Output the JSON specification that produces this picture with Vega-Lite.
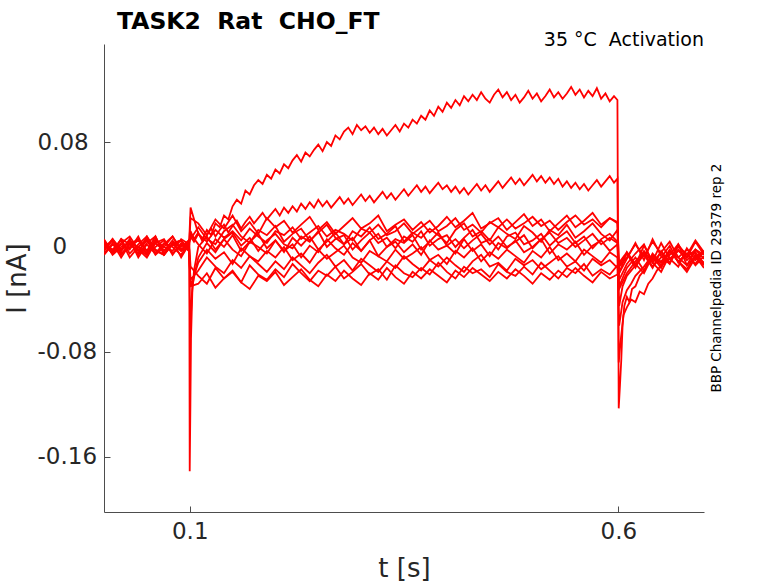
{
"$schema":"https://vega.github.io/schema/vega-lite/v6.json",
"width":600,"height":468,
"autosize":"none",
"padding":{"left":104,"top":44,"right":74,"bottom":71},
"background":"white",
"title":{"text":"TASK2\u00a0\u00a0Rat\u00a0\u00a0CHO_FT","anchor":"start","frame":"group","dx":13,"offset":-21,"baseline":"alphabetic","font":"DejaVu Sans","fontSize":23.5,"fontWeight":"bold","color":"#000000"},
"config":{"font":"DejaVu Sans","view":{"stroke":null},
"axis":{"domainColor":"#4d4d4d","tickColor":"#4d4d4d","labelColor":"#262626","titleColor":"#262626","grid":false,"labelFont":"DejaVu Sans","titleFont":"DejaVu Sans","titleFontWeight":"normal"}},
"layer":[
{"data":{"values":[
{"s":"a","t":0,"i":0.003},{"s":"a","t":0.01,"i":-0.005},{"s":"a","t":0.02,"i":0.006},{"s":"a","t":0.03,"i":0.002},{"s":"a","t":0.04,"i":-0.003},{"s":"a","t":0.05,"i":0.005},{"s":"a","t":0.06,"i":-0.006},{"s":"a","t":0.07,"i":0.0},{"s":"a","t":0.08,"i":0.008},{"s":"a","t":0.09,"i":-0.002},{"s":"a","t":0.099,"i":0.003},{"s":"a","t":0.101,"i":0.008},
{"s":"a","t":0.105,"i":0.004},{"s":"a","t":0.11,"i":0.01},{"s":"a","t":0.115,"i":0.006},{"s":"a","t":0.12,"i":0.013},{"s":"a","t":0.125,"i":0.009},{"s":"a","t":0.13,"i":0.018},{"s":"a","t":0.135,"i":0.015},{"s":"a","t":0.14,"i":0.024},{"s":"a","t":0.145,"i":0.021},{"s":"a","t":0.15,"i":0.031},{"s":"a","t":0.155,"i":0.036},{"s":"a","t":0.16,"i":0.033},{"s":"a","t":0.165,"i":0.043},{"s":"a","t":0.17,"i":0.04},{"s":"a","t":0.175,"i":0.047},{"s":"a","t":0.18,"i":0.051},{"s":"a","t":0.185,"i":0.048},{"s":"a","t":0.19,"i":0.055},{"s":"a","t":0.195,"i":0.052},{"s":"a","t":0.2,"i":0.059},{"s":"a","t":0.205,"i":0.056},{"s":"a","t":0.21,"i":0.063},{"s":"a","t":0.215,"i":0.06},{"s":"a","t":0.22,"i":0.066},{"s":"a","t":0.225,"i":0.07},{"s":"a","t":0.23,"i":0.065},{"s":"a","t":0.235,"i":0.072},{"s":"a","t":0.24,"i":0.069},{"s":"a","t":0.245,"i":0.074},{"s":"a","t":0.25,"i":0.078},{"s":"a","t":0.255,"i":0.073},{"s":"a","t":0.26,"i":0.08},{"s":"a","t":0.265,"i":0.077},{"s":"a","t":0.27,"i":0.085},{"s":"a","t":0.275,"i":0.082},{"s":"a","t":0.28,"i":0.088},{"s":"a","t":0.285,"i":0.091},{"s":"a","t":0.29,"i":0.086},{"s":"a","t":0.295,"i":0.093},{"s":"a","t":0.3,"i":0.089},{"s":"a","t":0.305,"i":0.092},{"s":"a","t":0.31,"i":0.087},{"s":"a","t":0.315,"i":0.091},{"s":"a","t":0.32,"i":0.086},{"s":"a","t":0.325,"i":0.09},{"s":"a","t":0.33,"i":0.085},{"s":"a","t":0.335,"i":0.089},{"s":"a","t":0.34,"i":0.093},{"s":"a","t":0.345,"i":0.088},{"s":"a","t":0.35,"i":0.094},{"s":"a","t":0.355,"i":0.091},{"s":"a","t":0.36,"i":0.097},{"s":"a","t":0.365,"i":0.094},{"s":"a","t":0.37,"i":0.1},{"s":"a","t":0.375,"i":0.097},{"s":"a","t":0.38,"i":0.104},{"s":"a","t":0.385,"i":0.1},{"s":"a","t":0.39,"i":0.107},{"s":"a","t":0.395,"i":0.103},{"s":"a","t":0.4,"i":0.11},{"s":"a","t":0.405,"i":0.106},{"s":"a","t":0.41,"i":0.112},{"s":"a","t":0.415,"i":0.108},{"s":"a","t":0.42,"i":0.115},{"s":"a","t":0.425,"i":0.111},{"s":"a","t":0.43,"i":0.116},{"s":"a","t":0.435,"i":0.112},{"s":"a","t":0.44,"i":0.118},{"s":"a","t":0.445,"i":0.113},{"s":"a","t":0.45,"i":0.11},{"s":"a","t":0.455,"i":0.116},{"s":"a","t":0.46,"i":0.12},{"s":"a","t":0.465,"i":0.114},{"s":"a","t":0.47,"i":0.118},{"s":"a","t":0.475,"i":0.112},{"s":"a","t":0.48,"i":0.116},{"s":"a","t":0.485,"i":0.11},{"s":"a","t":0.49,"i":0.114},{"s":"a","t":0.495,"i":0.119},{"s":"a","t":0.5,"i":0.113},{"s":"a","t":0.505,"i":0.117},{"s":"a","t":0.51,"i":0.111},{"s":"a","t":0.515,"i":0.115},{"s":"a","t":0.52,"i":0.12},{"s":"a","t":0.525,"i":0.114},{"s":"a","t":0.53,"i":0.118},{"s":"a","t":0.535,"i":0.113},{"s":"a","t":0.54,"i":0.117},{"s":"a","t":0.545,"i":0.122},{"s":"a","t":0.55,"i":0.116},{"s":"a","t":0.555,"i":0.12},{"s":"a","t":0.56,"i":0.114},{"s":"a","t":0.565,"i":0.119},{"s":"a","t":0.57,"i":0.115},{"s":"a","t":0.575,"i":0.121},{"s":"a","t":0.58,"i":0.113},{"s":"a","t":0.585,"i":0.117},{"s":"a","t":0.59,"i":0.111},{"s":"a","t":0.595,"i":0.115},{"s":"a","t":0.599,"i":0.112},
{"s":"a","t":0.6005,"i":-0.123},{"s":"a","t":0.602,"i":-0.105},{"s":"a","t":0.6035,"i":-0.086},{"s":"a","t":0.605,"i":-0.06},{"s":"a","t":0.607,"i":-0.045},{"s":"a","t":0.61,"i":-0.038},{"s":"a","t":0.613,"i":-0.042},{"s":"a","t":0.616,"i":-0.032},{"s":"a","t":0.62,"i":-0.03},{"s":"a","t":0.625,"i":-0.022},{"s":"a","t":0.63,"i":-0.018},{"s":"a","t":0.635,"i":-0.012},{"s":"a","t":0.64,"i":-0.009},{"s":"a","t":0.65,"i":-0.011},{"s":"a","t":0.66,"i":-0.004},{"s":"a","t":0.67,"i":-0.008},{"s":"a","t":0.68,"i":-0.002},{"s":"a","t":0.69,"i":-0.007},{"s":"a","t":0.7,"i":-0.004},

{"s":"b","t":0,"i":-0.002},{"s":"b","t":0.01,"i":0.005},{"s":"b","t":0.02,"i":-0.006},{"s":"b","t":0.03,"i":0.003},{"s":"b","t":0.04,"i":0.0},{"s":"b","t":0.05,"i":-0.005},{"s":"b","t":0.06,"i":0.006},{"s":"b","t":0.07,"i":-0.003},{"s":"b","t":0.08,"i":0.002},{"s":"b","t":0.09,"i":0.005},{"s":"b","t":0.099,"i":-0.002},{"s":"b","t":0.101,"i":0.012},
{"s":"b","t":0.105,"i":0.006},{"s":"b","t":0.11,"i":0.011},{"s":"b","t":0.115,"i":0.004},{"s":"b","t":0.12,"i":0.009},{"s":"b","t":0.125,"i":0.014},{"s":"b","t":0.13,"i":0.008},{"s":"b","t":0.135,"i":0.013},{"s":"b","t":0.14,"i":0.017},{"s":"b","t":0.145,"i":0.011},{"s":"b","t":0.15,"i":0.016},{"s":"b","t":0.155,"i":0.02},{"s":"b","t":0.16,"i":0.014},{"s":"b","t":0.165,"i":0.019},{"s":"b","t":0.17,"i":0.023},{"s":"b","t":0.175,"i":0.018},{"s":"b","t":0.18,"i":0.022},{"s":"b","t":0.185,"i":0.026},{"s":"b","t":0.19,"i":0.021},{"s":"b","t":0.195,"i":0.025},{"s":"b","t":0.2,"i":0.029},{"s":"b","t":0.205,"i":0.024},{"s":"b","t":0.21,"i":0.03},{"s":"b","t":0.215,"i":0.026},{"s":"b","t":0.22,"i":0.031},{"s":"b","t":0.225,"i":0.027},{"s":"b","t":0.23,"i":0.033},{"s":"b","t":0.235,"i":0.029},{"s":"b","t":0.24,"i":0.034},{"s":"b","t":0.245,"i":0.03},{"s":"b","t":0.25,"i":0.036},{"s":"b","t":0.255,"i":0.031},{"s":"b","t":0.26,"i":0.035},{"s":"b","t":0.265,"i":0.03},{"s":"b","t":0.27,"i":0.034},{"s":"b","t":0.275,"i":0.038},{"s":"b","t":0.28,"i":0.033},{"s":"b","t":0.285,"i":0.037},{"s":"b","t":0.29,"i":0.032},{"s":"b","t":0.295,"i":0.036},{"s":"b","t":0.3,"i":0.04},{"s":"b","t":0.305,"i":0.035},{"s":"b","t":0.31,"i":0.039},{"s":"b","t":0.315,"i":0.034},{"s":"b","t":0.32,"i":0.038},{"s":"b","t":0.325,"i":0.042},{"s":"b","t":0.33,"i":0.037},{"s":"b","t":0.335,"i":0.041},{"s":"b","t":0.34,"i":0.036},{"s":"b","t":0.345,"i":0.04},{"s":"b","t":0.35,"i":0.044},{"s":"b","t":0.355,"i":0.039},{"s":"b","t":0.36,"i":0.043},{"s":"b","t":0.365,"i":0.047},{"s":"b","t":0.37,"i":0.042},{"s":"b","t":0.375,"i":0.046},{"s":"b","t":0.38,"i":0.041},{"s":"b","t":0.385,"i":0.045},{"s":"b","t":0.39,"i":0.049},{"s":"b","t":0.395,"i":0.044},{"s":"b","t":0.4,"i":0.047},{"s":"b","t":0.405,"i":0.042},{"s":"b","t":0.41,"i":0.046},{"s":"b","t":0.415,"i":0.041},{"s":"b","t":0.42,"i":0.045},{"s":"b","t":0.425,"i":0.04},{"s":"b","t":0.43,"i":0.044},{"s":"b","t":0.435,"i":0.048},{"s":"b","t":0.44,"i":0.043},{"s":"b","t":0.445,"i":0.047},{"s":"b","t":0.45,"i":0.042},{"s":"b","t":0.455,"i":0.046},{"s":"b","t":0.46,"i":0.05},{"s":"b","t":0.465,"i":0.045},{"s":"b","t":0.47,"i":0.049},{"s":"b","t":0.475,"i":0.053},{"s":"b","t":0.48,"i":0.048},{"s":"b","t":0.485,"i":0.052},{"s":"b","t":0.49,"i":0.047},{"s":"b","t":0.495,"i":0.051},{"s":"b","t":0.5,"i":0.055},{"s":"b","t":0.505,"i":0.05},{"s":"b","t":0.51,"i":0.054},{"s":"b","t":0.515,"i":0.049},{"s":"b","t":0.52,"i":0.053},{"s":"b","t":0.525,"i":0.048},{"s":"b","t":0.53,"i":0.052},{"s":"b","t":0.535,"i":0.046},{"s":"b","t":0.54,"i":0.05},{"s":"b","t":0.545,"i":0.045},{"s":"b","t":0.55,"i":0.049},{"s":"b","t":0.555,"i":0.044},{"s":"b","t":0.56,"i":0.048},{"s":"b","t":0.565,"i":0.043},{"s":"b","t":0.57,"i":0.047},{"s":"b","t":0.575,"i":0.051},{"s":"b","t":0.58,"i":0.046},{"s":"b","t":0.585,"i":0.05},{"s":"b","t":0.59,"i":0.054},{"s":"b","t":0.595,"i":0.049},{"s":"b","t":0.599,"i":0.052},
{"s":"b","t":0.6005,"i":-0.088},{"s":"b","t":0.603,"i":-0.07},{"s":"b","t":0.606,"i":-0.052},{"s":"b","t":0.61,"i":-0.046},{"s":"b","t":0.615,"i":-0.04},{"s":"b","t":0.62,"i":-0.042},{"s":"b","t":0.625,"i":-0.034},{"s":"b","t":0.63,"i":-0.036},{"s":"b","t":0.635,"i":-0.028},{"s":"b","t":0.64,"i":-0.024},{"s":"b","t":0.645,"i":-0.018},{"s":"b","t":0.65,"i":-0.014},{"s":"b","t":0.66,"i":-0.009},{"s":"b","t":0.67,"i":-0.003},{"s":"b","t":0.68,"i":-0.008},{"s":"b","t":0.69,"i":-0.002},{"s":"b","t":0.7,"i":-0.006},

{"s":"c","t":0,"i":0.005},{"s":"c","t":0.01,"i":-0.003},{"s":"c","t":0.02,"i":0.006},{"s":"c","t":0.03,"i":-0.005},{"s":"c","t":0.04,"i":0.002},{"s":"c","t":0.05,"i":0.008},{"s":"c","t":0.06,"i":-0.003},{"s":"c","t":0.07,"i":-0.006},{"s":"c","t":0.08,"i":0.003},{"s":"c","t":0.09,"i":0.005},{"s":"c","t":0.099,"i":-0.002},{"s":"c","t":0.101,"i":0.03},
{"s":"c","t":0.11,"i":0.01},{"s":"c","t":0.12,"i":0.004},{"s":"c","t":0.13,"i":0.013},{"s":"c","t":0.14,"i":0.007},{"s":"c","t":0.15,"i":0.012},{"s":"c","t":0.16,"i":0.005},{"s":"c","t":0.17,"i":0.014},{"s":"c","t":0.18,"i":0.008},{"s":"c","t":0.19,"i":0.003},{"s":"c","t":0.2,"i":0.012},{"s":"c","t":0.21,"i":0.009},{"s":"c","t":0.22,"i":0.015},{"s":"c","t":0.23,"i":0.006},{"s":"c","t":0.24,"i":0.011},{"s":"c","t":0.25,"i":0.016},{"s":"c","t":0.26,"i":0.008},{"s":"c","t":0.27,"i":0.013},{"s":"c","t":0.28,"i":0.01},{"s":"c","t":0.29,"i":0.005},{"s":"c","t":0.3,"i":0.014},{"s":"c","t":0.31,"i":0.011},{"s":"c","t":0.32,"i":0.017},{"s":"c","t":0.33,"i":0.009},{"s":"c","t":0.34,"i":0.012},{"s":"c","t":0.35,"i":0.018},{"s":"c","t":0.36,"i":0.01},{"s":"c","t":0.37,"i":0.015},{"s":"c","t":0.38,"i":0.02},{"s":"c","t":0.39,"i":0.012},{"s":"c","t":0.4,"i":0.016},{"s":"c","t":0.41,"i":0.022},{"s":"c","t":0.42,"i":0.013},{"s":"c","t":0.43,"i":0.017},{"s":"c","t":0.44,"i":0.011},{"s":"c","t":0.45,"i":0.019},{"s":"c","t":0.46,"i":0.015},{"s":"c","t":0.47,"i":0.021},{"s":"c","t":0.48,"i":0.014},{"s":"c","t":0.49,"i":0.018},{"s":"c","t":0.5,"i":0.023},{"s":"c","t":0.51,"i":0.016},{"s":"c","t":0.52,"i":0.02},{"s":"c","t":0.53,"i":0.013},{"s":"c","t":0.54,"i":0.019},{"s":"c","t":0.55,"i":0.024},{"s":"c","t":0.56,"i":0.017},{"s":"c","t":0.57,"i":0.021},{"s":"c","t":0.58,"i":0.015},{"s":"c","t":0.59,"i":0.022},{"s":"c","t":0.599,"i":0.019},
{"s":"c","t":0.601,"i":-0.015},{"s":"c","t":0.61,"i":-0.008},{"s":"c","t":0.62,"i":0.002},{"s":"c","t":0.63,"i":-0.007},{"s":"c","t":0.64,"i":0.004},{"s":"c","t":0.65,"i":-0.005},{"s":"c","t":0.66,"i":-0.012},{"s":"c","t":0.67,"i":0.001},{"s":"c","t":0.68,"i":-0.006},{"s":"c","t":0.69,"i":0.005},{"s":"c","t":0.7,"i":-0.004},

{"s":"d","t":0,"i":-0.003},{"s":"d","t":0.01,"i":0.006},{"s":"d","t":0.02,"i":-0.002},{"s":"d","t":0.03,"i":0.005},{"s":"d","t":0.04,"i":-0.006},{"s":"d","t":0.05,"i":0.003},{"s":"d","t":0.06,"i":0.008},{"s":"d","t":0.07,"i":-0.005},{"s":"d","t":0.08,"i":0.002},{"s":"d","t":0.09,"i":-0.003},{"s":"d","t":0.099,"i":0.005},{"s":"d","t":0.101,"i":0.006},
{"s":"d","t":0.11,"i":0.015},{"s":"d","t":0.12,"i":0.006},{"s":"d","t":0.13,"i":0.002},{"s":"d","t":0.14,"i":0.012},{"s":"d","t":0.15,"i":0.017},{"s":"d","t":0.16,"i":0.008},{"s":"d","t":0.17,"i":0.003},{"s":"d","t":0.18,"i":0.013},{"s":"d","t":0.19,"i":0.009},{"s":"d","t":0.2,"i":0.016},{"s":"d","t":0.21,"i":0.004},{"s":"d","t":0.22,"i":0.01},{"s":"d","t":0.23,"i":0.014},{"s":"d","t":0.24,"i":0.005},{"s":"d","t":0.25,"i":0.011},{"s":"d","t":0.26,"i":0.017},{"s":"d","t":0.27,"i":0.007},{"s":"d","t":0.28,"i":0.002},{"s":"d","t":0.29,"i":0.012},{"s":"d","t":0.3,"i":0.008},{"s":"d","t":0.31,"i":0.015},{"s":"d","t":0.32,"i":0.006},{"s":"d","t":0.33,"i":0.01},{"s":"d","t":0.34,"i":0.016},{"s":"d","t":0.35,"i":0.004},{"s":"d","t":0.36,"i":0.011},{"s":"d","t":0.37,"i":0.007},{"s":"d","t":0.38,"i":0.014},{"s":"d","t":0.39,"i":0.009},{"s":"d","t":0.4,"i":0.003},{"s":"d","t":0.41,"i":0.013},{"s":"d","t":0.42,"i":0.018},{"s":"d","t":0.43,"i":0.008},{"s":"d","t":0.44,"i":0.012},{"s":"d","t":0.45,"i":0.005},{"s":"d","t":0.46,"i":0.015},{"s":"d","t":0.47,"i":0.01},{"s":"d","t":0.48,"i":0.006},{"s":"d","t":0.49,"i":0.016},{"s":"d","t":0.5,"i":0.011},{"s":"d","t":0.51,"i":0.004},{"s":"d","t":0.52,"i":0.013},{"s":"d","t":0.53,"i":0.009},{"s":"d","t":0.54,"i":0.017},{"s":"d","t":0.55,"i":0.007},{"s":"d","t":0.56,"i":0.012},{"s":"d","t":0.57,"i":0.018},{"s":"d","t":0.58,"i":0.01},{"s":"d","t":0.59,"i":0.005},{"s":"d","t":0.599,"i":0.013},
{"s":"d","t":0.601,"i":-0.03},{"s":"d","t":0.61,"i":-0.016},{"s":"d","t":0.62,"i":-0.008},{"s":"d","t":0.63,"i":-0.018},{"s":"d","t":0.64,"i":-0.005},{"s":"d","t":0.65,"i":-0.012},{"s":"d","t":0.66,"i":-0.002},{"s":"d","t":0.67,"i":-0.011},{"s":"d","t":0.68,"i":-0.017},{"s":"d","t":0.69,"i":-0.006},{"s":"d","t":0.7,"i":-0.012},

{"s":"e","t":0,"i":0.002},{"s":"e","t":0.01,"i":-0.005},{"s":"e","t":0.02,"i":0.003},{"s":"e","t":0.03,"i":0.008},{"s":"e","t":0.04,"i":-0.002},{"s":"e","t":0.05,"i":-0.006},{"s":"e","t":0.06,"i":0.005},{"s":"e","t":0.07,"i":0.0},{"s":"e","t":0.08,"i":-0.003},{"s":"e","t":0.09,"i":0.006},{"s":"e","t":0.0995,"i":0.002},{"s":"e","t":0.1,"i":-0.171},{"s":"e","t":0.1008,"i":-0.12},{"s":"e","t":0.1015,"i":-0.07},{"s":"e","t":0.103,"i":-0.035},{"s":"e","t":0.105,"i":-0.018},
{"s":"e","t":0.11,"i":0.0},{"s":"e","t":0.12,"i":0.008},{"s":"e","t":0.13,"i":-0.002},{"s":"e","t":0.14,"i":0.006},{"s":"e","t":0.15,"i":0.011},{"s":"e","t":0.16,"i":0.001},{"s":"e","t":0.17,"i":0.007},{"s":"e","t":0.18,"i":-0.003},{"s":"e","t":0.19,"i":0.005},{"s":"e","t":0.2,"i":0.01},{"s":"e","t":0.21,"i":0.002},{"s":"e","t":0.22,"i":-0.001},{"s":"e","t":0.23,"i":0.008},{"s":"e","t":0.24,"i":0.004},{"s":"e","t":0.25,"i":0.012},{"s":"e","t":0.26,"i":0.0},{"s":"e","t":0.27,"i":0.006},{"s":"e","t":0.28,"i":0.009},{"s":"e","t":0.29,"i":-0.002},{"s":"e","t":0.3,"i":0.005},{"s":"e","t":0.31,"i":0.011},{"s":"e","t":0.32,"i":0.003},{"s":"e","t":0.33,"i":0.007},{"s":"e","t":0.34,"i":-0.001},{"s":"e","t":0.35,"i":0.008},{"s":"e","t":0.36,"i":0.004},{"s":"e","t":0.37,"i":0.012},{"s":"e","t":0.38,"i":0.001},{"s":"e","t":0.39,"i":0.006},{"s":"e","t":0.4,"i":0.009},{"s":"e","t":0.41,"i":0.0},{"s":"e","t":0.42,"i":0.007},{"s":"e","t":0.43,"i":0.013},{"s":"e","t":0.44,"i":0.003},{"s":"e","t":0.45,"i":0.006},{"s":"e","t":0.46,"i":-0.002},{"s":"e","t":0.47,"i":0.008},{"s":"e","t":0.48,"i":0.011},{"s":"e","t":0.49,"i":0.002},{"s":"e","t":0.5,"i":0.005},{"s":"e","t":0.51,"i":0.01},{"s":"e","t":0.52,"i":0.001},{"s":"e","t":0.53,"i":0.007},{"s":"e","t":0.54,"i":0.012},{"s":"e","t":0.55,"i":0.003},{"s":"e","t":0.56,"i":0.008},{"s":"e","t":0.57,"i":-0.001},{"s":"e","t":0.58,"i":0.006},{"s":"e","t":0.59,"i":0.01},{"s":"e","t":0.599,"i":0.004},
{"s":"e","t":0.601,"i":-0.02},{"s":"e","t":0.61,"i":-0.004},{"s":"e","t":0.62,"i":-0.014},{"s":"e","t":0.63,"i":0.001},{"s":"e","t":0.64,"i":-0.011},{"s":"e","t":0.65,"i":0.003},{"s":"e","t":0.66,"i":-0.009},{"s":"e","t":0.67,"i":-0.015},{"s":"e","t":0.68,"i":-0.001},{"s":"e","t":0.69,"i":-0.01},{"s":"e","t":0.7,"i":-0.003},

{"s":"f","t":0,"i":-0.005},{"s":"f","t":0.01,"i":0.003},{"s":"f","t":0.02,"i":-0.008},{"s":"f","t":0.03,"i":0.002},{"s":"f","t":0.04,"i":0.006},{"s":"f","t":0.05,"i":-0.003},{"s":"f","t":0.06,"i":0.0},{"s":"f","t":0.07,"i":0.005},{"s":"f","t":0.08,"i":-0.006},{"s":"f","t":0.09,"i":0.003},{"s":"f","t":0.0995,"i":-0.002},{"s":"f","t":0.1005,"i":-0.065},{"s":"f","t":0.103,"i":-0.03},{"s":"f","t":0.106,"i":-0.02},
{"s":"f","t":0.11,"i":-0.008},{"s":"f","t":0.12,"i":0.003},{"s":"f","t":0.13,"i":-0.004},{"s":"f","t":0.14,"i":0.006},{"s":"f","t":0.15,"i":-0.002},{"s":"f","t":0.16,"i":-0.007},{"s":"f","t":0.17,"i":0.004},{"s":"f","t":0.18,"i":0.0},{"s":"f","t":0.19,"i":-0.005},{"s":"f","t":0.2,"i":0.005},{"s":"f","t":0.21,"i":-0.003},{"s":"f","t":0.22,"i":0.002},{"s":"f","t":0.23,"i":-0.008},{"s":"f","t":0.24,"i":0.001},{"s":"f","t":0.25,"i":-0.004},{"s":"f","t":0.26,"i":0.006},{"s":"f","t":0.27,"i":-0.001},{"s":"f","t":0.28,"i":-0.006},{"s":"f","t":0.29,"i":0.003},{"s":"f","t":0.3,"i":-0.003},{"s":"f","t":0.31,"i":0.005},{"s":"f","t":0.32,"i":-0.007},{"s":"f","t":0.33,"i":0.0},{"s":"f","t":0.34,"i":0.004},{"s":"f","t":0.35,"i":-0.004},{"s":"f","t":0.36,"i":0.002},{"s":"f","t":0.37,"i":-0.006},{"s":"f","t":0.38,"i":0.005},{"s":"f","t":0.39,"i":-0.002},{"s":"f","t":0.4,"i":0.001},{"s":"f","t":0.41,"i":-0.005},{"s":"f","t":0.42,"i":0.006},{"s":"f","t":0.43,"i":-0.003},{"s":"f","t":0.44,"i":0.002},{"s":"f","t":0.45,"i":-0.007},{"s":"f","t":0.46,"i":0.003},{"s":"f","t":0.47,"i":-0.001},{"s":"f","t":0.48,"i":0.005},{"s":"f","t":0.49,"i":-0.004},{"s":"f","t":0.5,"i":0.0},{"s":"f","t":0.51,"i":0.006},{"s":"f","t":0.52,"i":-0.005},{"s":"f","t":0.53,"i":0.002},{"s":"f","t":0.54,"i":-0.002},{"s":"f","t":0.55,"i":0.004},{"s":"f","t":0.56,"i":-0.006},{"s":"f","t":0.57,"i":0.001},{"s":"f","t":0.58,"i":0.005},{"s":"f","t":0.59,"i":-0.003},{"s":"f","t":0.599,"i":0.002},
{"s":"f","t":0.601,"i":-0.045},{"s":"f","t":0.605,"i":-0.03},{"s":"f","t":0.61,"i":-0.022},{"s":"f","t":0.62,"i":-0.014},{"s":"f","t":0.63,"i":-0.006},{"s":"f","t":0.64,"i":-0.016},{"s":"f","t":0.65,"i":-0.003},{"s":"f","t":0.66,"i":-0.012},{"s":"f","t":0.67,"i":-0.002},{"s":"f","t":0.68,"i":-0.01},{"s":"f","t":0.69,"i":-0.004},{"s":"f","t":0.7,"i":-0.013},

{"s":"g","t":0,"i":0.003},{"s":"g","t":0.01,"i":-0.002},{"s":"g","t":0.02,"i":0.005},{"s":"g","t":0.03,"i":-0.008},{"s":"g","t":0.04,"i":0.0},{"s":"g","t":0.05,"i":0.006},{"s":"g","t":0.06,"i":-0.005},{"s":"g","t":0.07,"i":0.002},{"s":"g","t":0.08,"i":0.008},{"s":"g","t":0.09,"i":-0.003},{"s":"g","t":0.099,"i":0.0},{"s":"g","t":0.101,"i":-0.03},
{"s":"g","t":0.11,"i":-0.012},{"s":"g","t":0.12,"i":-0.002},{"s":"g","t":0.13,"i":-0.009},{"s":"g","t":0.14,"i":-0.004},{"s":"g","t":0.15,"i":-0.013},{"s":"g","t":0.16,"i":-0.001},{"s":"g","t":0.17,"i":-0.007},{"s":"g","t":0.18,"i":-0.011},{"s":"g","t":0.19,"i":-0.003},{"s":"g","t":0.2,"i":-0.008},{"s":"g","t":0.21,"i":0.0},{"s":"g","t":0.22,"i":-0.01},{"s":"g","t":0.23,"i":-0.005},{"s":"g","t":0.24,"i":-0.012},{"s":"g","t":0.25,"i":-0.002},{"s":"g","t":0.26,"i":-0.009},{"s":"g","t":0.27,"i":-0.004},{"s":"g","t":0.28,"i":0.001},{"s":"g","t":0.29,"i":-0.008},{"s":"g","t":0.3,"i":-0.012},{"s":"g","t":0.31,"i":-0.003},{"s":"g","t":0.32,"i":-0.007},{"s":"g","t":0.33,"i":-0.011},{"s":"g","t":0.34,"i":-0.002},{"s":"g","t":0.35,"i":-0.009},{"s":"g","t":0.36,"i":-0.005},{"s":"g","t":0.37,"i":0.0},{"s":"g","t":0.38,"i":-0.01},{"s":"g","t":0.39,"i":-0.006},{"s":"g","t":0.4,"i":-0.013},{"s":"g","t":0.41,"i":-0.003},{"s":"g","t":0.42,"i":-0.008},{"s":"g","t":0.43,"i":-0.001},{"s":"g","t":0.44,"i":-0.011},{"s":"g","t":0.45,"i":-0.004},{"s":"g","t":0.46,"i":-0.009},{"s":"g","t":0.47,"i":-0.002},{"s":"g","t":0.48,"i":-0.007},{"s":"g","t":0.49,"i":-0.012},{"s":"g","t":0.5,"i":-0.003},{"s":"g","t":0.51,"i":-0.008},{"s":"g","t":0.52,"i":0.0},{"s":"g","t":0.53,"i":-0.01},{"s":"g","t":0.54,"i":-0.005},{"s":"g","t":0.55,"i":-0.011},{"s":"g","t":0.56,"i":-0.002},{"s":"g","t":0.57,"i":-0.007},{"s":"g","t":0.58,"i":-0.012},{"s":"g","t":0.59,"i":-0.004},{"s":"g","t":0.599,"i":-0.008},
{"s":"g","t":0.601,"i":-0.06},{"s":"g","t":0.605,"i":-0.042},{"s":"g","t":0.61,"i":-0.033},{"s":"g","t":0.615,"i":-0.028},{"s":"g","t":0.62,"i":-0.022},{"s":"g","t":0.63,"i":-0.015},{"s":"g","t":0.64,"i":-0.006},{"s":"g","t":0.65,"i":-0.014},{"s":"g","t":0.66,"i":-0.003},{"s":"g","t":0.67,"i":-0.011},{"s":"g","t":0.68,"i":-0.005},{"s":"g","t":0.69,"i":-0.014},{"s":"g","t":0.7,"i":-0.007},

{"s":"h","t":0,"i":-0.006},{"s":"h","t":0.01,"i":0.002},{"s":"h","t":0.02,"i":-0.003},{"s":"h","t":0.03,"i":0.005},{"s":"h","t":0.04,"i":-0.002},{"s":"h","t":0.05,"i":-0.008},{"s":"h","t":0.06,"i":0.003},{"s":"h","t":0.07,"i":0.006},{"s":"h","t":0.08,"i":-0.005},{"s":"h","t":0.09,"i":0.002},{"s":"h","t":0.099,"i":-0.003},{"s":"h","t":0.101,"i":-0.025},
{"s":"h","t":0.11,"i":-0.018},{"s":"h","t":0.12,"i":-0.008},{"s":"h","t":0.13,"i":-0.015},{"s":"h","t":0.14,"i":-0.02},{"s":"h","t":0.15,"i":-0.01},{"s":"h","t":0.16,"i":-0.016},{"s":"h","t":0.17,"i":-0.007},{"s":"h","t":0.18,"i":-0.013},{"s":"h","t":0.19,"i":-0.019},{"s":"h","t":0.2,"i":-0.011},{"s":"h","t":0.21,"i":-0.017},{"s":"h","t":0.22,"i":-0.008},{"s":"h","t":0.23,"i":-0.014},{"s":"h","t":0.24,"i":-0.02},{"s":"h","t":0.25,"i":-0.012},{"s":"h","t":0.26,"i":-0.006},{"s":"h","t":0.27,"i":-0.015},{"s":"h","t":0.28,"i":-0.01},{"s":"h","t":0.29,"i":-0.018},{"s":"h","t":0.3,"i":-0.009},{"s":"h","t":0.31,"i":-0.014},{"s":"h","t":0.32,"i":-0.019},{"s":"h","t":0.33,"i":-0.011},{"s":"h","t":0.34,"i":-0.016},{"s":"h","t":0.35,"i":-0.007},{"s":"h","t":0.36,"i":-0.013},{"s":"h","t":0.37,"i":-0.018},{"s":"h","t":0.38,"i":-0.01},{"s":"h","t":0.39,"i":-0.015},{"s":"h","t":0.4,"i":-0.008},{"s":"h","t":0.41,"i":-0.014},{"s":"h","t":0.42,"i":-0.019},{"s":"h","t":0.43,"i":-0.011},{"s":"h","t":0.44,"i":-0.006},{"s":"h","t":0.45,"i":-0.015},{"s":"h","t":0.46,"i":-0.012},{"s":"h","t":0.47,"i":-0.018},{"s":"h","t":0.48,"i":-0.009},{"s":"h","t":0.49,"i":-0.014},{"s":"h","t":0.5,"i":-0.01},{"s":"h","t":0.51,"i":-0.017},{"s":"h","t":0.52,"i":-0.012},{"s":"h","t":0.53,"i":-0.007},{"s":"h","t":0.54,"i":-0.015},{"s":"h","t":0.55,"i":-0.011},{"s":"h","t":0.56,"i":-0.018},{"s":"h","t":0.57,"i":-0.009},{"s":"h","t":0.58,"i":-0.014},{"s":"h","t":0.59,"i":-0.01},{"s":"h","t":0.599,"i":-0.016},
{"s":"h","t":0.601,"i":-0.032},{"s":"h","t":0.61,"i":-0.02},{"s":"h","t":0.62,"i":-0.011},{"s":"h","t":0.63,"i":-0.004},{"s":"h","t":0.64,"i":-0.015},{"s":"h","t":0.65,"i":-0.008},{"s":"h","t":0.66,"i":0.001},{"s":"h","t":0.67,"i":-0.012},{"s":"h","t":0.68,"i":-0.005},{"s":"h","t":0.69,"i":-0.013},{"s":"h","t":0.7,"i":-0.003},

{"s":"i","t":0,"i":0.005},{"s":"i","t":0.01,"i":-0.006},{"s":"i","t":0.02,"i":0.0},{"s":"i","t":0.03,"i":0.003},{"s":"i","t":0.04,"i":-0.005},{"s":"i","t":0.05,"i":0.008},{"s":"i","t":0.06,"i":-0.002},{"s":"i","t":0.07,"i":-0.006},{"s":"i","t":0.08,"i":0.003},{"s":"i","t":0.09,"i":0.0},{"s":"i","t":0.099,"i":0.005},{"s":"i","t":0.101,"i":-0.015},
{"s":"i","t":0.11,"i":-0.022},{"s":"i","t":0.12,"i":-0.028},{"s":"i","t":0.13,"i":-0.016},{"s":"i","t":0.14,"i":-0.024},{"s":"i","t":0.15,"i":-0.019},{"s":"i","t":0.16,"i":-0.027},{"s":"i","t":0.17,"i":-0.014},{"s":"i","t":0.18,"i":-0.021},{"s":"i","t":0.19,"i":-0.025},{"s":"i","t":0.2,"i":-0.017},{"s":"i","t":0.21,"i":-0.023},{"s":"i","t":0.22,"i":-0.013},{"s":"i","t":0.23,"i":-0.02},{"s":"i","t":0.24,"i":-0.026},{"s":"i","t":0.25,"i":-0.018},{"s":"i","t":0.26,"i":-0.022},{"s":"i","t":0.27,"i":-0.015},{"s":"i","t":0.28,"i":-0.024},{"s":"i","t":0.29,"i":-0.019},{"s":"i","t":0.3,"i":-0.013},{"s":"i","t":0.31,"i":-0.021},{"s":"i","t":0.32,"i":-0.017},{"s":"i","t":0.33,"i":-0.025},{"s":"i","t":0.34,"i":-0.014},{"s":"i","t":0.35,"i":-0.02},{"s":"i","t":0.36,"i":-0.023},{"s":"i","t":0.37,"i":-0.016},{"s":"i","t":0.38,"i":-0.021},{"s":"i","t":0.39,"i":-0.012},{"s":"i","t":0.4,"i":-0.019},{"s":"i","t":0.41,"i":-0.024},{"s":"i","t":0.42,"i":-0.015},{"s":"i","t":0.43,"i":-0.02},{"s":"i","t":0.44,"i":-0.017},{"s":"i","t":0.45,"i":-0.023},{"s":"i","t":0.46,"i":-0.013},{"s":"i","t":0.47,"i":-0.019},{"s":"i","t":0.48,"i":-0.022},{"s":"i","t":0.49,"i":-0.015},{"s":"i","t":0.5,"i":-0.021},{"s":"i","t":0.51,"i":-0.012},{"s":"i","t":0.52,"i":-0.018},{"s":"i","t":0.53,"i":-0.024},{"s":"i","t":0.54,"i":-0.016},{"s":"i","t":0.55,"i":-0.02},{"s":"i","t":0.56,"i":-0.013},{"s":"i","t":0.57,"i":-0.022},{"s":"i","t":0.58,"i":-0.017},{"s":"i","t":0.59,"i":-0.021},{"s":"i","t":0.599,"i":-0.014},
{"s":"i","t":0.601,"i":-0.014},{"s":"i","t":0.61,"i":-0.005},{"s":"i","t":0.62,"i":-0.016},{"s":"i","t":0.63,"i":-0.003},{"s":"i","t":0.64,"i":-0.012},{"s":"i","t":0.65,"i":-0.019},{"s":"i","t":0.66,"i":-0.006},{"s":"i","t":0.67,"i":0.002},{"s":"i","t":0.68,"i":-0.014},{"s":"i","t":0.69,"i":-0.007},{"s":"i","t":0.7,"i":-0.016},

{"s":"j","t":0,"i":-0.002},{"s":"j","t":0.01,"i":0.006},{"s":"j","t":0.02,"i":-0.005},{"s":"j","t":0.03,"i":0.0},{"s":"j","t":0.04,"i":0.005},{"s":"j","t":0.05,"i":-0.003},{"s":"j","t":0.06,"i":0.008},{"s":"j","t":0.07,"i":-0.006},{"s":"j","t":0.08,"i":0.002},{"s":"j","t":0.09,"i":0.005},{"s":"j","t":0.099,"i":-0.003},{"s":"j","t":0.101,"i":0.022},
{"s":"j","t":0.11,"i":0.018},{"s":"j","t":0.12,"i":0.009},{"s":"j","t":0.13,"i":0.021},{"s":"j","t":0.14,"i":0.014},{"s":"j","t":0.15,"i":0.024},{"s":"j","t":0.16,"i":0.012},{"s":"j","t":0.17,"i":0.019},{"s":"j","t":0.18,"i":0.01},{"s":"j","t":0.19,"i":0.022},{"s":"j","t":0.2,"i":0.015},{"s":"j","t":0.21,"i":0.02},{"s":"j","t":0.22,"i":0.011},{"s":"j","t":0.23,"i":0.017},{"s":"j","t":0.24,"i":0.023},{"s":"j","t":0.25,"i":0.013},{"s":"j","t":0.26,"i":0.019},{"s":"j","t":0.27,"i":0.01},{"s":"j","t":0.28,"i":0.016},{"s":"j","t":0.29,"i":0.022},{"s":"j","t":0.3,"i":0.014},{"s":"j","t":0.31,"i":0.018},{"s":"j","t":0.32,"i":0.024},{"s":"j","t":0.33,"i":0.012},{"s":"j","t":0.34,"i":0.017},{"s":"j","t":0.35,"i":0.021},{"s":"j","t":0.36,"i":0.013},{"s":"j","t":0.37,"i":0.019},{"s":"j","t":0.38,"i":0.011},{"s":"j","t":0.39,"i":0.016},{"s":"j","t":0.4,"i":0.023},{"s":"j","t":0.41,"i":0.015},{"s":"j","t":0.42,"i":0.02},{"s":"j","t":0.43,"i":0.026},{"s":"j","t":0.44,"i":0.014},{"s":"j","t":0.45,"i":0.018},{"s":"j","t":0.46,"i":0.022},{"s":"j","t":0.47,"i":0.013},{"s":"j","t":0.48,"i":0.019},{"s":"j","t":0.49,"i":0.025},{"s":"j","t":0.5,"i":0.016},{"s":"j","t":0.51,"i":0.021},{"s":"j","t":0.52,"i":0.012},{"s":"j","t":0.53,"i":0.018},{"s":"j","t":0.54,"i":0.024},{"s":"j","t":0.55,"i":0.015},{"s":"j","t":0.56,"i":0.02},{"s":"j","t":0.57,"i":0.026},{"s":"j","t":0.58,"i":0.017},{"s":"j","t":0.59,"i":0.022},{"s":"j","t":0.599,"i":0.018},
{"s":"j","t":0.601,"i":-0.02},{"s":"j","t":0.61,"i":-0.009},{"s":"j","t":0.62,"i":0.003},{"s":"j","t":0.63,"i":-0.01},{"s":"j","t":0.64,"i":0.006},{"s":"j","t":0.65,"i":-0.007},{"s":"j","t":0.66,"i":-0.013},{"s":"j","t":0.67,"i":0.002},{"s":"j","t":0.68,"i":-0.008},{"s":"j","t":0.69,"i":0.004},{"s":"j","t":0.7,"i":-0.006},

{"s":"k","t":0,"i":0.0},{"s":"k","t":0.01,"i":0.005},{"s":"k","t":0.02,"i":-0.003},{"s":"k","t":0.03,"i":0.006},{"s":"k","t":0.04,"i":-0.008},{"s":"k","t":0.05,"i":0.002},{"s":"k","t":0.06,"i":-0.005},{"s":"k","t":0.07,"i":0.003},{"s":"k","t":0.08,"i":0.0},{"s":"k","t":0.09,"i":-0.006},{"s":"k","t":0.099,"i":0.003},{"s":"k","t":0.101,"i":-0.03},
{"s":"k","t":0.11,"i":-0.028},{"s":"k","t":0.12,"i":-0.02},{"s":"k","t":0.13,"i":-0.031},{"s":"k","t":0.14,"i":-0.024},{"s":"k","t":0.15,"i":-0.018},{"s":"k","t":0.16,"i":-0.027},{"s":"k","t":0.17,"i":-0.032},{"s":"k","t":0.18,"i":-0.022},{"s":"k","t":0.19,"i":-0.026},{"s":"k","t":0.2,"i":-0.019},{"s":"k","t":0.21,"i":-0.029},{"s":"k","t":0.22,"i":-0.023},{"s":"k","t":0.23,"i":-0.017},{"s":"k","t":0.24,"i":-0.025},{"s":"k","t":0.25,"i":-0.03},{"s":"k","t":0.26,"i":-0.021},{"s":"k","t":0.27,"i":-0.026},{"s":"k","t":0.28,"i":-0.018},{"s":"k","t":0.29,"i":-0.024},{"s":"k","t":0.3,"i":-0.029},{"s":"k","t":0.31,"i":-0.02},{"s":"k","t":0.32,"i":-0.025},{"s":"k","t":0.33,"i":-0.016},{"s":"k","t":0.34,"i":-0.023},{"s":"k","t":0.35,"i":-0.028},{"s":"k","t":0.36,"i":-0.019},{"s":"k","t":0.37,"i":-0.024},{"s":"k","t":0.38,"i":-0.017},{"s":"k","t":0.39,"i":-0.022},{"s":"k","t":0.4,"i":-0.027},{"s":"k","t":0.41,"i":-0.018},{"s":"k","t":0.42,"i":-0.023},{"s":"k","t":0.43,"i":-0.016},{"s":"k","t":0.44,"i":-0.021},{"s":"k","t":0.45,"i":-0.026},{"s":"k","t":0.46,"i":-0.019},{"s":"k","t":0.47,"i":-0.024},{"s":"k","t":0.48,"i":-0.017},{"s":"k","t":0.49,"i":-0.022},{"s":"k","t":0.5,"i":-0.028},{"s":"k","t":0.51,"i":-0.02},{"s":"k","t":0.52,"i":-0.025},{"s":"k","t":0.53,"i":-0.018},{"s":"k","t":0.54,"i":-0.023},{"s":"k","t":0.55,"i":-0.016},{"s":"k","t":0.56,"i":-0.022},{"s":"k","t":0.57,"i":-0.027},{"s":"k","t":0.58,"i":-0.019},{"s":"k","t":0.59,"i":-0.024},{"s":"k","t":0.599,"i":-0.021},
{"s":"k","t":0.601,"i":-0.012},{"s":"k","t":0.61,"i":-0.004},{"s":"k","t":0.62,"i":-0.013},{"s":"k","t":0.63,"i":-0.02},{"s":"k","t":0.64,"i":-0.007},{"s":"k","t":0.65,"i":-0.016},{"s":"k","t":0.66,"i":-0.003},{"s":"k","t":0.67,"i":-0.011},{"s":"k","t":0.68,"i":-0.019},{"s":"k","t":0.69,"i":-0.008},{"s":"k","t":0.7,"i":-0.014},

{"s":"l","t":0,"i":0.006},{"s":"l","t":0.01,"i":-0.005},{"s":"l","t":0.02,"i":0.002},{"s":"l","t":0.03,"i":-0.002},{"s":"l","t":0.04,"i":0.008},{"s":"l","t":0.05,"i":-0.006},{"s":"l","t":0.06,"i":0.003},{"s":"l","t":0.07,"i":-0.003},{"s":"l","t":0.08,"i":0.005},{"s":"l","t":0.09,"i":-0.008},{"s":"l","t":0.099,"i":0.002},{"s":"l","t":0.101,"i":0.01},
{"s":"l","t":0.11,"i":0.002},{"s":"l","t":0.12,"i":-0.005},{"s":"l","t":0.13,"i":0.006},{"s":"l","t":0.14,"i":0.0},{"s":"l","t":0.15,"i":0.009},{"s":"l","t":0.16,"i":-0.003},{"s":"l","t":0.17,"i":0.004},{"s":"l","t":0.18,"i":0.01},{"s":"l","t":0.19,"i":-0.001},{"s":"l","t":0.2,"i":0.005},{"s":"l","t":0.21,"i":-0.004},{"s":"l","t":0.22,"i":0.007},{"s":"l","t":0.23,"i":0.001},{"s":"l","t":0.24,"i":0.008},{"s":"l","t":0.25,"i":-0.002},{"s":"l","t":0.26,"i":0.004},{"s":"l","t":0.27,"i":0.011},{"s":"l","t":0.28,"i":0.002},{"s":"l","t":0.29,"i":0.007},{"s":"l","t":0.3,"i":-0.003},{"s":"l","t":0.31,"i":0.005},{"s":"l","t":0.32,"i":0.01},{"s":"l","t":0.33,"i":0.0},{"s":"l","t":0.34,"i":0.006},{"s":"l","t":0.35,"i":0.003},{"s":"l","t":0.36,"i":0.009},{"s":"l","t":0.37,"i":-0.002},{"s":"l","t":0.38,"i":0.004},{"s":"l","t":0.39,"i":0.011},{"s":"l","t":0.4,"i":0.001},{"s":"l","t":0.41,"i":0.006},{"s":"l","t":0.42,"i":-0.001},{"s":"l","t":0.43,"i":0.005},{"s":"l","t":0.44,"i":0.01},{"s":"l","t":0.45,"i":0.002},{"s":"l","t":0.46,"i":0.008},{"s":"l","t":0.47,"i":0.0},{"s":"l","t":0.48,"i":0.004},{"s":"l","t":0.49,"i":0.009},{"s":"l","t":0.5,"i":-0.001},{"s":"l","t":0.51,"i":0.006},{"s":"l","t":0.52,"i":0.011},{"s":"l","t":0.53,"i":0.003},{"s":"l","t":0.54,"i":0.007},{"s":"l","t":0.55,"i":0.0},{"s":"l","t":0.56,"i":0.005},{"s":"l","t":0.57,"i":0.01},{"s":"l","t":0.58,"i":0.002},{"s":"l","t":0.59,"i":0.007},{"s":"l","t":0.599,"i":0.003},
{"s":"l","t":0.601,"i":-0.025},{"s":"l","t":0.61,"i":-0.013},{"s":"l","t":0.62,"i":-0.005},{"s":"l","t":0.63,"i":0.002},{"s":"l","t":0.64,"i":-0.012},{"s":"l","t":0.65,"i":-0.004},{"s":"l","t":0.66,"i":0.004},{"s":"l","t":0.67,"i":-0.008},{"s":"l","t":0.68,"i":-0.014},{"s":"l","t":0.69,"i":-0.002},{"s":"l","t":0.7,"i":-0.009}
]},
"mark":{"type":"line","strokeWidth":1.8,"clip":true,"interpolate":"linear"},
"encoding":{
"x":{"field":"t","type":"quantitative","scale":{"domain":[0,0.7],"nice":false,"zero":false},
"axis":{"values":[0.1,0.6],"labelExpr":"toString(datum.value)","title":"t [s]","labelFontSize":23,"titleFontSize":26,"tickSize":-6,"labelPadding":14,"titlePadding":12,"domainWidth":1}},
"y":{"field":"i","type":"quantitative","scale":{"domain":[-0.202,0.1547],"nice":false,"zero":false},
"axis":{"values":[-0.16,-0.08,0,0.08],"labelExpr":"toString(datum.value)","labelAlign":"left","title":"I [nA]","labelFontSize":23,"titleFontSize":26,"tickSize":-6,
"labelPadding":{"condition":{"test":"datum.value == 0","value":58},"value":73},"titlePadding":7,"domainWidth":1}},
"detail":{"field":"s","type":"nominal"},
"color":{"value":"#ff0000"}
}},
{"data":{"values":[{"label":"35\u00a0°C\u00a0\u00a0Activation"}]},
"mark":{"type":"text","align":"right","baseline":"middle","dy":-4,"fontSize":19,"font":"DejaVu Sans","color":"#000000"},
"encoding":{"x":{"datum":0.7},"y":{"datum":0.1547},"text":{"field":"label"}}},
{"data":{"values":[{"label":"BBP Channelpedia ID 29379 rep 2"}]},
"mark":{"type":"text","align":"center","baseline":"middle","angle":270,"dy":13,"fontSize":13.5,"font":"DejaVu Sans","color":"#000000"},
"encoding":{"x":{"datum":0.7},"y":{"datum":-0.0237},"text":{"field":"label"}}}
]
}
